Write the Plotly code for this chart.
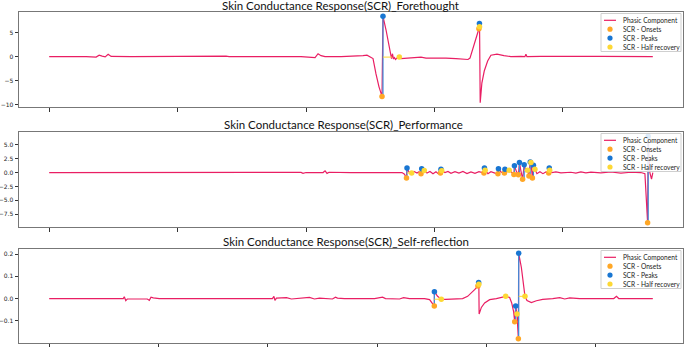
import plotly.graph_objects as go

# ---------------- data (time in s, phasic amplitude) ----------------
titles = ["Skin Conductance Response(SCR)_Forethought",
          "Skin Conductance Response(SCR)_Performance",
          "Skin Conductance Response(SCR)_Self-reflection"]

p1_t = [0, 1.09, 1.56, 1.87, 2.18, 3.42, 5.76, 7.31, 7.78, 8.25, 8.72, 9.18, 9.65, 12.76, 17.43,
        23.66, 27.55, 28.02, 33.0, 39.22, 41.40, 41.87, 42.33, 42.96, 45.45, 47.78, 48.87, 49.49,
        49.96, 50.43, 50.89, 51.36, 51.83, 51.98, 52.45, 52.81, 53.07, 53.31, 53.46, 53.62, 53.77,
        53.93, 54.16, 54.52, 54.79, 55.56, 57.12, 57.90, 58.68, 60.23, 61.79, 63.35, 64.44, 65.22,
        65.53, 65.91, 66.30, 66.69, 66.92, 67.00, 67.02, 67.12, 67.38, 67.75, 68.28, 68.79, 69.73,
        70.82, 71.90, 73.46, 74.08, 74.24, 74.40, 76.57, 79.69, 85.91, 94.0]
p1_v = [0.0, 0.0, 0.1, 0.15, 0.0, 0.05, 0.0, -0.1, 0.3, 0.1, -0.05, 0.5, 0.05, 0.0, 0.05,
        0.0, 0.1, 0.0, 0.05, 0.0, -0.2, 0.6, 0.2, 0.0, 0.0, 0.05, 0.2, 0.3,
        0.0, -0.4, -3.6, -6.3, -8.3, 8.4, 5.6, 2.9, 0.9, -0.4, 0.6, -0.5, -0.2,
        -0.6, -0.3, -0.1, -0.4, -0.3, -0.25, -0.1, -0.3, -0.25, -0.3, -0.4, -0.5, -0.6,
        -0.3, 1.5, 3.2, 4.8, 5.8, 6.9, 6.2, -9.6, -5.5, -3.0, -0.9, 0.3, 0.5,
        0.2, 0.0, 0.05, 0.0, 0.5, 0.0, 0.05, 0.0, 0.05, 0.0]
p1_onset_t = [51.83, 66.92]
p1_onset_v = [-8.3, 5.8]
p1_peak_t = [51.98, 67.00]
p1_peak_v = [8.4, 6.9]
p1_hr_t = [54.52, 67.02]
p1_hr_v = [-0.1, 6.2]
p1_hr_peak = [0, 1]

p2_t = [0, 15.88, 31.44, 35.49, 35.64, 35.95, 39.22, 39.53, 40.0, 42.65, 42.96, 43.27, 43.58, 47.0,
        51.67, 54.94, 55.33, 55.64, 55.72, 56.03, 56.45, 56.81, 57.28, 57.59, 57.90, 58.01, 58.41,
        58.83, 59.30, 59.77, 60.23, 60.54, 60.93, 61.01, 61.13, 61.63, 62.10, 62.57, 63.19, 63.81,
        64.43, 65.06, 65.68, 66.30, 66.93, 67.70, 67.78, 67.89, 68.33, 68.79, 69.42, 69.88, 69.96,
        70.35, 70.89, 70.97, 71.28, 71.64, 72.06, 72.37, 72.45, 72.76, 73.07, 73.23, 73.46, 73.72,
        73.97, 74.24, 74.50, 74.71, 74.91, 75.02, 75.25, 75.41, 75.64, 75.95, 76.42, 76.89, 77.35,
        77.79, 77.87, 77.94, 78.29, 78.91, 79.69, 81.24, 82.02, 82.80, 83.58, 84.36, 85.91, 87.47,
        89.03, 90.58, 92.14, 92.77, 93.19, 93.28, 93.54, 93.80, 94.0]
p2_v = [0, 0.02, 0, 0, 0.12, 0, 0.02, -0.15, 0, 0, 0.3, -0.15, 0.05, 0,
        0.02, 0, -0.3, -1.0, 0.8, 0.1, -0.1, 0.2, -0.1, 0.15, -0.2, 0.7, 0.35,
        -0.1, 0.2, -0.2, 0.15, -0.15, -0.1, 0.6, 0.3, 0.0, 0.2, -0.15, 0.15, -0.1,
        0.2, -0.2, 0.1, -0.15, 0.15, -0.1, 0.8, 0.4, -0.2, 0.15, -0.1, -0.2, 0.7,
        0.1, -0.1, 0.6, 0.1, 0.4, 0.0, -0.35, 1.2, 0.2, -0.4, 1.8, 0.3, -1.2,
        1.4, 0.2, 0.4, -0.6, 1.9, 1.8, -1.0, 1.3, 0.6, -0.2, 0.15, -0.2, 0.1,
        -0.1, 0.8, 0.4, 0.0, 0.1, -0.05, 0.05, -0.1, 0.1, -0.05, 0.08, -0.05, 0.1,
        -0.1, 0.05, 0.0, -0.2, -9.0, 6.5, 0.0, -1.2, 0.0]
p2_onset_t = [55.64, 57.90, 60.93, 67.70, 69.88, 70.89, 72.37, 73.07, 73.72, 74.71, 75.25, 77.79, 93.19]
p2_onset_v = [-1.0, -0.2, -0.1, -0.1, -0.2, -0.1, -0.35, -0.4, -1.2, -0.6, -1.0, -0.1, -9.0]
p2_peak_t = [55.72, 58.01, 61.01, 67.78, 69.96, 70.97, 72.45, 73.23, 73.97, 74.91, 75.41, 77.87, 93.28]
p2_peak_v = [0.8, 0.7, 0.6, 0.8, 0.7, 0.6, 1.2, 1.8, 1.4, 1.9, 1.3, 0.8, 6.5]
p2_hr_t = [56.45, 58.41, 61.13, 67.89, 71.64, 74.50, 75.02, 75.64, 77.94]
p2_hr_v = [-0.1, 0.35, 0.3, 0.4, 0.4, 0.4, 1.8, 0.6, 0.4]
p2_hr_peak = [0, 1, 2, 3, 5, 8, 9, 10, 11]

p3_t = [0, 9.16, 13.55, 13.74, 14.01, 14.29, 17.95, 18.32, 18.63, 19.05, 20.15, 27.47, 36.63,
        40.84, 41.12, 41.30, 41.58, 43.41, 44.32, 45.79, 47.62, 48.53, 49.45, 51.83, 52.38, 52.75,
        54.03, 59.52, 60.99, 61.54, 64.10, 64.84, 65.93, 68.68, 69.60, 70.46, 70.48, 71.06, 71.74,
        72.53, 74.18, 75.64, 76.56, 77.29, 77.84, 78.44, 78.57, 78.61, 78.66, 79.07, 79.67, 80.59,
        81.81, 82.97, 83.52, 84.25, 84.62, 84.98, 85.17, 85.35, 85.59, 85.84, 85.90, 86.39, 86.81,
        87.05, 87.42, 88.22, 89.14, 90.29, 92.12, 93.41, 94.32, 95.24, 97.07, 100.73, 103.30,
        103.79, 104.21, 108.06, 110.44]
p3_v = [0, 0.0, 0.0, 0.008, -0.009, -0.002, -0.002, -0.008, 0.006, 0.003, 0.0, 0.0, 0.0,
        0.0, 0.01, -0.008, 0.002, 0.004, -0.002, 0.002, 0.005, -0.002, 0.002, -0.002, 0.006, 0.002,
        0.0, 0.0, 0.006, 0.0, -0.002, 0.004, 0.0, 0.0, -0.005, -0.034, 0.031, 0.01, -0.003,
        -0.004, -0.003, 0.0, 0.01, 0.025, 0.04, 0.056, 0.072, 0.064, -0.07, -0.04, -0.02, -0.005,
        0.0, 0.008, 0.01, 0.005, -0.02, -0.06, -0.105, -0.034, -0.07, -0.181, 0.204, 0.14, 0.05,
        0.01, -0.009, -0.018, -0.01, -0.004, 0.0, 0.004, -0.002, 0.003, 0.0, 0.002, 0.0,
        0.01, 0.0, 0.0, 0.0]
p3_onset_t = [70.46, 78.44, 85.17, 85.84]
p3_onset_v = [-0.034, 0.056, -0.105, -0.181]
p3_peak_t = [70.48, 78.57, 85.35, 85.90]
p3_peak_v = [0.031, 0.072, -0.034, 0.204]
p3_hr_t = [71.74, 78.61, 83.52, 85.59, 87.05]
p3_hr_v = [-0.003, 0.064, 0.01, -0.07, 0.01]
p3_hr_peak = [0, 1, -1, 2, 3]

y_tick_vals = [[-10, -5, 0, 5], [-7.5, -5.0, -2.5, 0.0, 2.5, 5.0], [-0.1, 0.0, 0.1, 0.2]]
y_tick_fmt = ["d", ".1f", ".1f"]
legend_labels = ["Phasic Component", "SCR - Onsets", "SCR - Peaks", "SCR - Half recovery"]

# ---------------- style ----------------
C_PHASIC = "#E91E63"
C_ONSET = "#FFA726"
C_PEAK = "#1976D2"
C_AMP = "#3b8fdd"
C_HR = "#FDD835"
W, H = 685, 347
PL, PR = 19, 683                     # plot-area left/right in px
panels_px = [(12, 107), (132, 227), (249, 343)]
title_cx = [340, 343.5, 346]
title_cy = [5, 124, 241]

panels = [
    (p1_t, p1_v, p1_onset_t, p1_onset_v, p1_peak_t, p1_peak_v, p1_hr_t, p1_hr_v, p1_hr_peak),
    (p2_t, p2_v, p2_onset_t, p2_onset_v, p2_peak_t, p2_peak_v, p2_hr_t, p2_hr_v, p2_hr_peak),
    (p3_t, p3_v, p3_onset_t, p3_onset_v, p3_peak_t, p3_peak_v, p3_hr_t, p3_hr_v, p3_hr_peak),
]

fig = go.Figure()
shapes, annotations = [], []
layout = dict(width=W, height=H, margin=dict(l=PL, r=W - PR, t=0, b=0, autoexpand=False),
              paper_bgcolor="white", plot_bgcolor="white", showlegend=False)

for i, (t, v, ot, ov, pt, pv, ht, hv, hp) in enumerate(panels):
    n = "" if i == 0 else str(i + 1)
    xa, ya = "x" + n, "y" + n
    # risetime, amplitude, half-recovery segments
    rx, ry, ax_, ay_, hx, hy = [], [], [], [], [], []
    for a, b, c, d in zip(ot, ov, pt, pv):
        rx += [a, c, None]; ry += [b, b, None]
        ax_ += [c, c, None]; ay_ += [b, d, None]
    for a, b, k in zip(ht, hv, hp):
        if k >= 0:
            hx += [pt[k], a, None]; hy += [b, b, None]

    fig.add_trace(go.Scatter(x=t, y=v, mode="lines", line=dict(color=C_PHASIC, width=1.2),
                             xaxis=xa, yaxis=ya, name=legend_labels[0]))
    fig.add_trace(go.Scatter(x=rx, y=ry, mode="lines", line=dict(color=C_ONSET, width=1, dash="dash"),
                             xaxis=xa, yaxis=ya, connectgaps=False))
    fig.add_trace(go.Scatter(x=ax_, y=ay_, mode="lines", line=dict(color=C_AMP, width=1.2),
                             xaxis=xa, yaxis=ya, connectgaps=False))
    fig.add_trace(go.Scatter(x=hx, y=hy, mode="lines", line=dict(color=C_HR, width=1, dash="dash"),
                             xaxis=xa, yaxis=ya, connectgaps=False))
    fig.add_trace(go.Scatter(x=ot, y=ov, mode="markers", marker=dict(color=C_ONSET, size=5.5),
                             xaxis=xa, yaxis=ya, name=legend_labels[1]))
    fig.add_trace(go.Scatter(x=pt, y=pv, mode="markers", marker=dict(color=C_PEAK, size=5.5),
                             xaxis=xa, yaxis=ya, name=legend_labels[2]))
    fig.add_trace(go.Scatter(x=ht, y=hv, mode="markers", marker=dict(color=C_HR, size=5.5),
                             xaxis=xa, yaxis=ya, name=legend_labels[3]))

    # matplotlib-like autoscale with 5% margins
    xmin, xmax = min(t), max(t)
    allv = list(v) + list(ov) + list(pv) + list(hv)
    ymin, ymax = min(allv), max(allv)
    dx, dy = (xmax - xmin) * 0.05, (ymax - ymin) * 0.05

    top, bot = panels_px[i]
    layout["xaxis" + n] = dict(domain=[0, 1], anchor=ya, range=[xmin - dx, xmax + dx],
                               dtick=20, tick0=0, showticklabels=False, ticks="outside",
                               ticklen=3.5, tickwidth=0.8, tickcolor="#333", automargin=False,
                               showline=True, mirror=True, linecolor="#777", linewidth=1,
                               showgrid=False, zeroline=False)
    layout["yaxis" + n] = dict(domain=[1 - bot / H, 1 - top / H], anchor=xa,
                               range=[ymin - dy, ymax + dy], tickmode="array",
                               tickvals=y_tick_vals[i], tickformat=y_tick_fmt[i],
                               ticks="outside", ticklen=3.5, tickwidth=0.8, tickcolor="#333",
                               tickfont=dict(family="DejaVu Sans", size=6, color="#222"),
                               automargin=False,
                               showline=True, mirror=True, linecolor="#777", linewidth=1,
                               showgrid=False, zeroline=False)

    # title
    annotations.append(dict(text=titles[i], xref="paper", yref="paper",
                            x=(title_cx[i] - PL) / (PR - PL), y=1 - title_cy[i] / H,
                            xanchor="center", yanchor="middle", showarrow=False,
                            font=dict(family="Lato", size=11.5, color="#111")))

    # legend box (matplotlib style, inside top-right)
    ph = bot - top
    pw = PR - PL
    fx = lambda px: (px - PL) / pw
    fy = lambda off: 1 - off / ph
    xr, yr = xa + " domain", ya + " domain"
    shapes.append(dict(type="rect", xref=xr, yref=yr, x0=fx(601), x1=fx(681), y0=fy(39.5), y1=fy(1.5),
                       fillcolor="rgba(255,255,255,0.85)", line=dict(color="#cfcfcf", width=1), layer="above"))
    rows = [8.3, 17.2, 26.1, 35.0]
    shapes.append(dict(type="line", xref=xr, yref=yr, x0=fx(604), x1=fx(616), y0=fy(rows[0]), y1=fy(rows[0]),
                       line=dict(color=C_PHASIC, width=1.2), layer="above"))
    for r, col in zip(rows[1:], [C_ONSET, C_PEAK, C_HR]):
        rad = 2.6
        shapes.append(dict(type="circle", xref=xr, yref=yr, x0=fx(610 - rad), x1=fx(610 + rad),
                           y0=fy(r + rad), y1=fy(r - rad), fillcolor=col, line=dict(width=0), layer="above"))
    for r, lab in zip(rows, legend_labels):
        annotations.append(dict(text=lab, xref=xr, yref=yr, x=fx(621), y=fy(r), xanchor="left",
                                yanchor="middle", showarrow=False,
                                font=dict(family="Lato", size=6.6, color="#222")))

layout["shapes"] = shapes
layout["annotations"] = annotations
fig.update_layout(**layout)
fig.write_html("out.html", config={"displayModeBar": False},
               post_script="document.body.style.margin='0';document.body.style.overflow='hidden';")
